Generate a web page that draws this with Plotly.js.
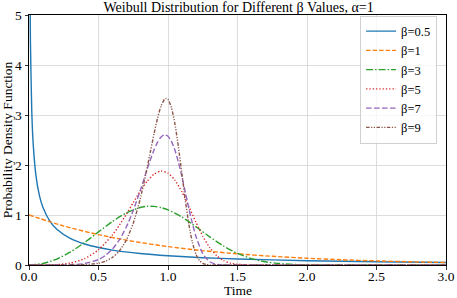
<!DOCTYPE html>
<html>
<head>
<meta charset="utf-8">
<script src="https://cdn.plot.ly/plotly-3.0.1.min.js"></script>
<style>
  html, body { margin: 0; padding: 0; background: #fff; }
  #chart { width: 457px; height: 298px; }
</style>
</head>
<body>
<div id="chart"></div>
<script>
// values
const labels = ['β=0.5', 'β=1', 'β=3', 'β=5', 'β=7', 'β=9'];
const colors = ['#1f77b4', '#ff7f0e', '#2ca02c', '#d62728', '#9467bd', '#8c564b'];
const dashes = ['solid', '4.5px,2px', '7px,2px,1.5px,2px', '1.3px,2px', '5.5px,2.5px', '3.5px,1.5px,1.2px,1.5px,1.2px,1.5px'];

const x05 = [0.002, 0.005, 0.01, 0.02, 0.03, 0.05, 0.075, 0.1, 0.15, 0.2, 0.3, 0.4, 0.5, 0.6, 0.8, 1.0, 1.25, 1.5, 2.0, 2.5, 3.0];
const y05 = [10.69, 6.588, 4.524, 3.069, 2.428, 1.788, 1.388, 1.153, 0.877, 0.715, 0.528, 0.420, 0.349, 0.298, 0.229, 0.184, 0.146, 0.120, 0.086, 0.065, 0.051];

const x1 = [0, 0.25, 0.5, 0.75, 1.0, 1.25, 1.5, 1.75, 2.0, 2.25, 2.5, 2.75, 3.0];
const y1 = [1.0, 0.779, 0.607, 0.472, 0.368, 0.287, 0.223, 0.174, 0.135, 0.105, 0.082, 0.064, 0.050];

const x3 = [0, 0.1, 0.2, 0.3, 0.4, 0.5, 0.6, 0.7, 0.8, 0.85, 0.9, 0.95, 1.0, 1.1, 1.2, 1.3, 1.4, 1.5, 1.6, 1.7, 1.8, 1.9, 2.0, 2.25, 2.5, 3.0];
const y3 = [0, 0.030, 0.119, 0.263, 0.450, 0.662, 0.870, 1.043, 1.151, 1.173, 1.172, 1.149, 1.104, 0.959, 0.767, 0.563, 0.378, 0.231, 0.128, 0.064, 0.029, 0.011, 0.004, 0.0002, 0, 0];

const x5 = [0, 0.2, 0.3, 0.4, 0.5, 0.6, 0.65, 0.7, 0.75, 0.8, 0.85, 0.9, 0.95, 1.0, 1.05, 1.1, 1.15, 1.2, 1.25, 1.3, 1.35, 1.4, 1.45, 1.5, 1.6, 1.7, 2.0, 3.0];
const y5 = [0, 0.008, 0.040, 0.127, 0.303, 0.600, 0.795, 1.015, 1.248, 1.476, 1.675, 1.818, 1.879, 1.839, 1.696, 1.463, 1.170, 0.861, 0.577, 0.348, 0.188, 0.089, 0.036, 0.013, 0.001, 0, 0, 0];

const x7 = [0, 0.2, 0.3, 0.4, 0.5, 0.55, 0.6, 0.65, 0.7, 0.75, 0.8, 0.85, 0.875, 0.9, 0.925, 0.95, 0.975, 1.0, 1.025, 1.05, 1.075, 1.1, 1.125, 1.15, 1.175, 1.2, 1.25, 1.3, 1.35, 1.4, 1.5, 2.0, 3.0];
const y7 = [0, 0, 0.005, 0.029, 0.109, 0.191, 0.318, 0.503, 0.759, 1.090, 1.488, 1.916, 2.121, 2.306, 2.457, 2.559, 2.602, 2.575, 2.473, 2.296, 2.056, 1.766, 1.451, 1.133, 0.836, 0.581, 0.227, 0.064, 0.012, 0.001, 0, 0, 0];

const x9 = [0, 0.3, 0.4, 0.5, 0.55, 0.6, 0.65, 0.7, 0.75, 0.8, 0.85, 0.875, 0.9, 0.925, 0.95, 0.975, 0.987, 1.0, 1.025, 1.05, 1.075, 1.1, 1.125, 1.15, 1.175, 1.2, 1.225, 1.25, 1.275, 1.3, 1.35, 2.0, 3.0];
const y9 = [0, 0.001, 0.006, 0.035, 0.075, 0.150, 0.281, 0.498, 0.836, 1.320, 1.945, 2.290, 2.630, 2.938, 3.179, 3.315, 3.332, 3.311, 3.145, 2.819, 2.360, 1.825, 1.288, 0.817, 0.458, 0.223, 0.092, 0.031, 0.009, 0.002, 0, 0, 0];

const xs = [x05, x1, x3, x5, x7, x9];
const ys = [y05, y1, y3, y5, y7, y9];

const font = 'Liberation Serif';

const traces = [];
for (let i = 0; i < labels.length; i++) {
    traces.push({
        x: xs[i],
        y: ys[i],
        name: labels[i],
        type: 'scatter',
        mode: 'lines',
        line: {color: colors[i], width: 1.4, dash: dashes[i], shape: 'spline', smoothing: 0.6}
    });
}

const axisStyle = {
    showline: true,
    mirror: true,
    linecolor: '#000',
    linewidth: 1,
    ticks: 'outside',
    ticklen: 3.5,
    tickwidth: 0.8,
    tickcolor: '#000',
    showgrid: true,
    gridcolor: '#d4d4d4',
    gridwidth: 0.8,
    zeroline: false,
    tickfont: {family: font, size: 13.5, color: '#000'}
};

const layout = {
    width: 457,
    height: 298,
    margin: {l: 29, r: 11, t: 15, b: 33},
    paper_bgcolor: '#fff',
    plot_bgcolor: '#fff',
    font: {family: font, size: 13, color: '#000'},
    title: {text: 'Weibull Distribution for Different β Values, α=1', font: {family: font, size: 14, color: '#000'}, x: 0.522, xanchor: 'center', y: 0.992, yanchor: 'top'},
    xaxis: Object.assign({}, axisStyle, {
        range: [0, 3],
        tickvals: [0, 0.5, 1, 1.5, 2, 2.5, 3],
        ticktext: ['0.0', '0.5', '1.0', '1.5', '2.0', '2.5', '3.0'],
        ticklabelstandoff: -5
    }),
    yaxis: Object.assign({}, axisStyle, {
        range: [0, 5],
        tickvals: [0, 1, 2, 3, 4, 5],
        title: {text: 'Probability Density Function', font: {family: font, size: 13.5}, standoff: 4}
    }),
    annotations: [{
        text: 'Time', xref: 'paper', yref: 'paper', x: 0.5, y: -0.1,
        xanchor: 'center', yanchor: 'middle', showarrow: false,
        font: {family: font, size: 13.5, color: '#000'}
    }],
    showlegend: true,
    legend: {
        x: 0.794, y: 0.998, xanchor: 'left', yanchor: 'top',
        bgcolor: 'rgba(255,255,255,0.8)',
        bordercolor: '#d0d0d0',
        borderwidth: 1,
        font: {family: font, size: 12.5, color: '#000'},
        tracegroupgap: 0
    }
};

Plotly.newPlot('chart', traces, layout, {staticPlot: true});
</script>
</body>
</html>
